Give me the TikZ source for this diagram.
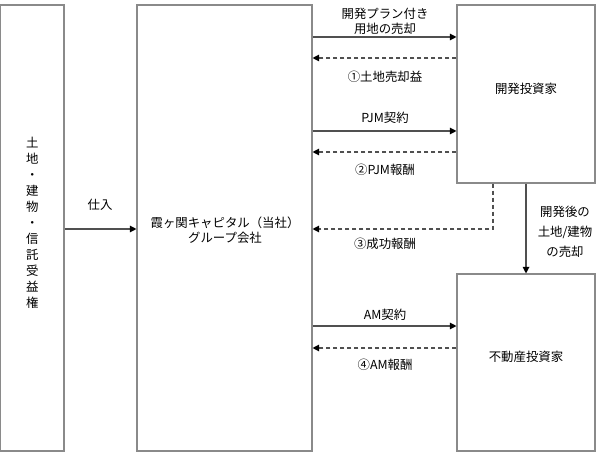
\documentclass[tikz,border=0pt]{standalone}
\usepackage{fontspec}
\newfontfamily\jp{Noto Sans CJK JP}
\usetikzlibrary{arrows.meta,fit}
\definecolor{boxgray}{HTML}{8A8A8A}
\definecolor{linegray}{HTML}{505050}
\begin{document}
\begin{tikzpicture}[x=0.75pt,y=-0.75pt,
  box/.style={draw=boxgray, line width=0.8pt, inner sep=0pt, align=center,
    font=\jp\fontsize{9.3}{11.25}\selectfont},
  lbl/.style={align=center, inner sep=0pt, font=\jp\fontsize{9.3}{11.25}\selectfont},
  flow/.style={draw=linegray, line width=0.85pt, -{Triangle[length=5pt,width=5pt,black]}},
  ret/.style={draw=linegray, line width=0.85pt, dash pattern=on 3pt off 2.25pt,
    -{Triangle[length=5pt,width=5pt,black]}}
]
\useasboundingbox (0,0) rectangle (613,452);
% boxes
\node[box, fit={(0.5,5) (64,451)}, font=\jp\fontsize{9.3}{12}\selectfont] (src)
  {土\\地\\・\\建\\物\\・\\信\\託\\受\\益\\権};
\node[box, fit={(137,5) (312,451)}] (mid) {};
\node[lbl] at (225,230) {霞ヶ関キャピタル（当社）\\グループ会社};
\node[box, fit={(457,5) (595,183)}] (rt) {開発投資家};
\node[box, fit={(457,274) (595,451)}] (rb) {不動産投資家};
% purchase
\draw[flow] (src.east |- 0,229) -- (mid.west |- 0,229);
\node[lbl] at (100,205) {仕入};
% development plan sale
\draw[flow] (mid.east |- 0,37) -- (rt.west |- 0,37);
\node[lbl] at (385,21) {開発プラン付き\\用地の売却};
\draw[ret] (rt.west |- 0,58) -- (mid.east |- 0,58);
\node[lbl] at (385,77) {①土地売却益};
% PJM
\draw[flow] (mid.east |- 0,131) -- (rt.west |- 0,131);
\node[lbl] at (385,118) {PJM契約};
\draw[ret] (rt.west |- 0,152) -- (mid.east |- 0,152);
\node[lbl] at (385,170) {②PJM報酬};
% success fee
\coordinate (c3) at (493,229);
\draw[ret] (rt.south -| c3) |- (mid.east |- c3);
\node[lbl] at (385,244) {③成功報酬};
% sale after development
\draw[flow] (rt.south) -- (rb.north);
\node[lbl, font=\jp\fontsize{9.3}{15}\selectfont] at (565,232) {開発後の\\土地/建物\\の売却};
% AM
\draw[flow] (mid.east |- 0,326) -- (rb.west |- 0,326);
\node[lbl] at (385,315) {AM契約};
\draw[ret] (rb.west |- 0,348) -- (mid.east |- 0,348);
\node[lbl] at (385,365) {④AM報酬};
\end{tikzpicture}
\end{document}
